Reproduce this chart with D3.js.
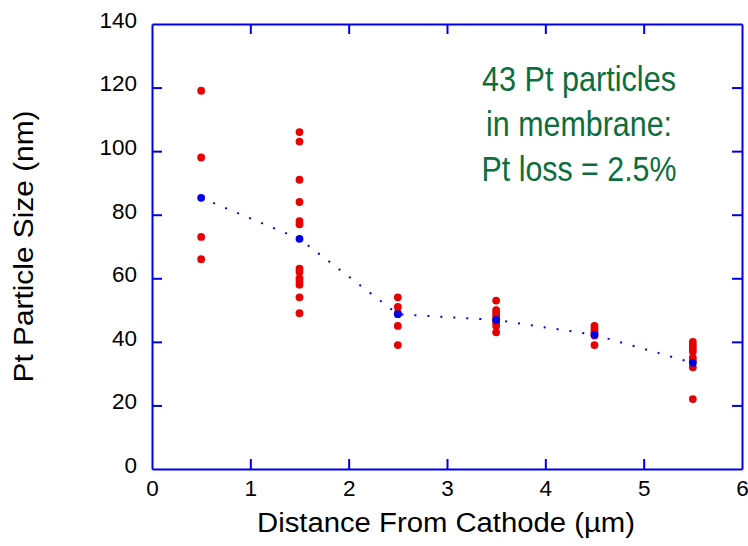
<!DOCTYPE html>
<html><head><meta charset="utf-8">
<script src="https://cdn.jsdelivr.net/npm/d3@7"></script>
<style>body{margin:0;background:#fff}svg{display:block}</style>
</head><body>
<svg id="c" width="748" height="546"></svg>
<script>
// Data
const positions = [0.5, 1.5, 2.5, 3.5, 4.5, 5.5];
const sizes05 = [119, 98, 73, 66];
const sizes15 = [106, 103, 91, 84, 78, 77, 63, 62, 60, 59, 58, 54, 49];
const sizes25 = [54, 51, 49, 45, 39];
const sizes35 = [53, 50, 49, 48, 47, 46, 45, 43];
const sizes45 = [45, 44, 43, 42, 39];
const sizes55 = [40, 39, 38, 37, 35, 34, 32, 22];
const meanSizes = [85.3, 72.4, 48.7, 46.9, 42.2, 33.4];
const xTicks = [0, 1, 2, 3, 4, 5, 6];
const yTicks = [0, 20, 40, 60, 80, 100, 120, 140];
const noteLines = ["43 Pt particles", "in membrane:", "Pt loss = 2.5%"];

const groups = [sizes05, sizes15, sizes25, sizes35, sizes45, sizes55];
const points = [];
groups.forEach((g, i) => g.forEach(v => points.push({x: positions[i], y: v})));
const means = positions.map((p, i) => ({x: p, y: meanSizes[i]}));

const svg = d3.select("#c");
const L = 152, R = 742, T = 24, B = 469;
const x = d3.scaleLinear().domain([0, 6]).range([L, R]);
const y = d3.scaleLinear().domain([0, 140]).range([B, T]);
const axisCol = "#0000e6";
const font = "Liberation Sans, Arial, sans-serif";

// dotted mean line
svg.append("path")
  .datum(means)
  .attr("d", d3.line().x(d => x(d.x)).y(d => y(d.y)))
  .attr("fill", "none").attr("stroke", axisCol).attr("stroke-width", 2)
  .attr("stroke-dasharray", "2,11");

// red points
svg.append("g").selectAll("circle").data(points).join("circle")
  .attr("cx", d => x(d.x)).attr("cy", d => y(d.y)).attr("r", 3.9)
  .attr("fill", "#e60000");
// blue means
svg.append("g").selectAll("circle").data(means).join("circle")
  .attr("cx", d => x(d.x)).attr("cy", d => y(d.y)).attr("r", 3.9)
  .attr("fill", "#0000e6");

// axes with inner ticks
const tl = 10;
function styleAxis(g){
  g.selectAll("path").attr("stroke", axisCol).attr("stroke-width", 2);
  g.selectAll("line").attr("stroke", axisCol).attr("stroke-width", 2);
  g.selectAll("text").attr("fill", "#000").attr("font-family", font).attr("font-size", 22.5);
}
const inner = v => v > 0 && v < 6;
svg.append("g").attr("transform", `translate(0,${B})`)
  .call(d3.axisBottom(x).tickValues(xTicks).tickSizeInner(-tl).tickSizeOuter(0).tickPadding(11).tickFormat(d3.format("d")))
  .call(styleAxis)
  .call(g => g.selectAll(".tick").filter(d => !inner(d)).select("line").remove());
svg.append("g").attr("transform", `translate(0,${T})`)
  .call(d3.axisTop(x).tickValues(xTicks).tickSizeInner(-tl).tickSizeOuter(0).tickFormat(""))
  .call(styleAxis)
  .call(g => g.selectAll(".tick").filter(d => !inner(d)).select("line").remove());
svg.append("g").attr("transform", `translate(${L},0)`)
  .call(d3.axisLeft(y).tickValues(yTicks).tickSizeInner(-tl).tickSizeOuter(0).tickPadding(15).tickFormat(d3.format("d")))
  .call(styleAxis)
  .call(g => g.selectAll(".tick").filter(d => d === 0 || d === 140).select("line").remove())
  .call(g => g.selectAll("text").attr("dy", "0.15em"));
svg.append("g").attr("transform", `translate(${R},0)`)
  .call(d3.axisRight(y).tickValues(yTicks).tickSizeInner(-tl).tickSizeOuter(0).tickFormat(""))
  .call(styleAxis)
  .call(g => g.selectAll(".tick").filter(d => d === 0 || d === 140).select("line").remove());

// axis titles
svg.append("text").attr("x", (L + R) / 2 - 1).attr("y", 532)
  .attr("text-anchor", "middle").attr("font-family", font).attr("font-size", 27)
  .attr("textLength", 378).attr("lengthAdjust", "spacingAndGlyphs")
  .text("Distance From Cathode (\u00b5m)");
svg.append("text").attr("transform", `translate(33,${(T + B) / 2}) rotate(-90)`)
  .attr("text-anchor", "middle").attr("font-family", font).attr("font-size", 27)
  .attr("textLength", 272).attr("lengthAdjust", "spacingAndGlyphs")
  .text("Pt Particle Size (nm)");

// annotation
const noteW = [194, 186, 195];
svg.append("g").selectAll("text").data(noteLines).join("text")
  .attr("x", 579).attr("y", (d, i) => 91 + i * 45)
  .attr("text-anchor", "middle").attr("font-family", font).attr("font-size", 35)
  .attr("fill", "#0b6e3c")
  .attr("textLength", (d, i) => noteW[i]).attr("lengthAdjust", "spacingAndGlyphs")
  .text(d => d);
</script>
</body></html>
